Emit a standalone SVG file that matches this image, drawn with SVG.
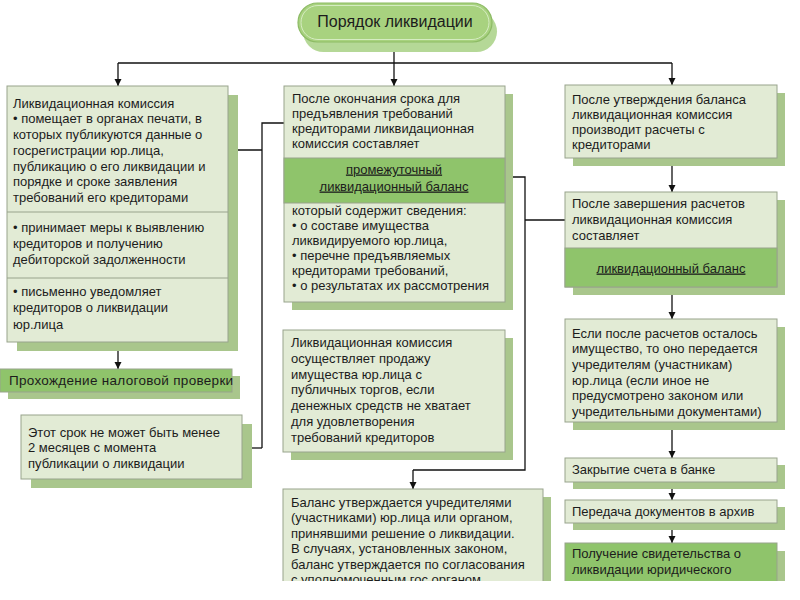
<svg xmlns="http://www.w3.org/2000/svg" width="800" height="600" viewBox="0 0 800 600">
<defs>
<marker id="ah" markerWidth="8" markerHeight="8" refX="7" refY="4" orient="auto" markerUnits="userSpaceOnUse">
<path d="M0,0.5 L7,4 L0,7.5 Z" fill="#111"/>
</marker>
<clipPath id="cut"><rect x="0" y="0" width="800" height="581"/></clipPath>
</defs>
<style>
text{font-family:"Liberation Sans",Arial,sans-serif;font-size:13px;fill:#1c1c1c}
.box{fill:#e2ebd5;stroke:#98a38c;stroke-width:1}
.grn{fill:#8fc46b;stroke:#98a38c;stroke-width:1}
.sh{fill:#a9c68c}
.div{stroke:#98a38c;stroke-width:1}
.c{fill:none;stroke:#111;stroke-width:1.3}
.ca{fill:none;stroke:#111;stroke-width:1.3;marker-end:url(#ah)}
.u{text-decoration:underline}
.mid{text-anchor:middle}
</style>
<rect width="800" height="600" fill="#ffffff"/>

<g id="connectors">
<line class="c" x1="394" y1="42" x2="394" y2="63"/>
<line class="c" x1="118" y1="63" x2="672" y2="63"/>
<line class="ca" x1="118" y1="63" x2="118" y2="86"/>
<line class="ca" x1="394" y1="63" x2="394" y2="86"/>
<line class="ca" x1="672" y1="63" x2="672" y2="85"/>
<line class="ca" x1="118" y1="342" x2="118" y2="369"/>
<polyline class="c" points="228,150 262,150"/>
<polyline class="c" points="284,123 262,123 262,448"/>
<line class="ca" x1="262" y1="448" x2="243" y2="448"/>
<polyline class="c" points="505,177 525,177 525,470 413,470"/>
<line class="ca" x1="413" y1="470" x2="413" y2="489"/>
<line class="c" x1="525" y1="220" x2="565" y2="220"/>
<line class="ca" x1="672" y1="158" x2="672" y2="192"/>
<line class="ca" x1="672" y1="287" x2="672" y2="319"/>
<line class="ca" x1="672" y1="422" x2="672" y2="458"/>
<line class="ca" x1="672" y1="482" x2="672" y2="500"/>
<line class="ca" x1="672" y1="523" x2="672" y2="543"/>
</g>

<g id="title">
<rect x="303" y="11" width="194" height="41" rx="20.5" fill="#b5d897"/>
<rect x="298" y="3" width="194" height="39" rx="19.5" fill="#a8d27f" stroke="#8dbb65" stroke-width="1.2"/>
<rect x="301" y="5.5" width="188" height="34" rx="17" fill="none" stroke="#d6ecc2" stroke-width="1"/>
<text x="395" y="27" class="mid" style="font-size:16px">Порядок ликвидации</text>
</g>

<g id="left-commission">
<rect class="sh" x="17" y="95" width="221" height="256"/>
<rect class="box" x="7" y="86" width="221" height="256"/>
<line class="div" x1="7" y1="212" x2="228" y2="212"/>
<line class="div" x1="7" y1="278" x2="228" y2="278"/>
<text x="13" y="107.5">Ликвидационная комиссия</text>
<text x="13" y="123">• помещает в органах печати, в</text>
<text x="13" y="139">которых публикуются данные о</text>
<text x="13" y="155">госрегистрации юр.лица,</text>
<text x="13" y="170.5">публикацию о его ликвидации и</text>
<text x="13" y="186">порядке и сроке заявления</text>
<text x="13" y="201.5">требований его кредиторами</text>
<text x="13" y="232">• принимает меры к выявлению</text>
<text x="13" y="248">кредиторов и получению</text>
<text x="13" y="264">дебиторской задолженности</text>
<text x="13" y="296">• письменно уведомляет</text>
<text x="13" y="312">кредиторов о ликвидации</text>
<text x="13" y="328.5">юр.лица</text>
</g>

<g id="tax-check">
<rect class="sh" x="8" y="376" width="232" height="23"/>
<rect class="grn" x="0" y="369" width="232" height="23"/>
<text x="9" y="385" style="font-size:13.5px;letter-spacing:0.3px">Прохождение налоговой проверки</text>
</g>

<g id="term">
<rect class="sh" x="31" y="424" width="221" height="64"/>
<rect class="box" x="21" y="415" width="221" height="64"/>
<text x="28" y="436.5">Этот срок не может быть менее</text>
<text x="28" y="452">2 месяцев с момента</text>
<text x="28" y="467.5">публикации о ликвидации</text>
</g>

<g id="interim-balance">
<rect class="sh" x="292" y="94" width="221" height="216"/>
<rect class="box" x="284" y="86" width="221" height="216"/>
<rect class="grn" x="284" y="158" width="221" height="45"/>
<text x="292" y="102.5">После окончания срока для</text>
<text x="292" y="117.5">предъявления требований</text>
<text x="292" y="132.5">кредиторами ликвидационная</text>
<text x="292" y="147.5">комиссия составляет</text>
<text x="394" y="173.5" class="mid u">промежуточный</text>
<text x="394" y="190.5" class="mid u">ликвидационный баланс</text>
<text x="292" y="214.5">который содержит сведения:</text>
<text x="292" y="229.5">• о составе имущества</text>
<text x="292" y="244.5">ликвидируемого юр.лица,</text>
<text x="292" y="259.5">• перечне предъявляемых</text>
<text x="292" y="274.5">кредиторами требований,</text>
<text x="292" y="289.5">• о результатах их рассмотрения</text>
</g>

<g id="sale">
<rect class="sh" x="291" y="338" width="222" height="122"/>
<rect class="box" x="283" y="330" width="222" height="122"/>
<text x="291" y="347">Ликвидационная комиссия</text>
<text x="291" y="362.8">осуществляет продажу</text>
<text x="291" y="378.6">имущества юр.лица с</text>
<text x="291" y="394.4">публичных торгов, если</text>
<text x="291" y="410.2">денежных средств не хватает</text>
<text x="291" y="426">для удовлетворения</text>
<text x="291" y="441.8">требований кредиторов</text>
</g>

<g id="approval" clip-path="url(#cut)">
<rect class="sh" x="291" y="497" width="260" height="100"/>
<rect class="box" x="283" y="489" width="260" height="100"/>
<text x="291" y="506.5">Баланс утверждается учредителями</text>
<text x="291" y="522">(участниками) юр.лица или органом,</text>
<text x="291" y="537.5">принявшими решение о ликвидации.</text>
<text x="291" y="553">В случаях, установленных законом,</text>
<text x="291" y="568.5">баланс утверждается по согласования</text>
<text x="291" y="584">с уполномоченным гос.органом</text>
</g>

<g id="settlements">
<rect class="sh" x="573" y="93" width="212" height="73"/>
<rect class="box" x="565" y="85" width="212" height="73"/>
<text x="572" y="103.5">После утверждения баланса</text>
<text x="572" y="118.5">ликвидационная комиссия</text>
<text x="572" y="133.5">производит расчеты с</text>
<text x="572" y="148.5">кредиторами</text>
</g>

<g id="final-balance">
<rect class="sh" x="573" y="200" width="212" height="95"/>
<rect class="box" x="565" y="192" width="212" height="95"/>
<rect class="grn" x="565" y="248" width="212" height="39"/>
<text x="572" y="208">После завершения расчетов</text>
<text x="572" y="224">ликвидационная комиссия</text>
<text x="572" y="240">составляет</text>
<text x="671" y="272.5" class="mid u">ликвидационный баланс</text>
</g>

<g id="remaining-property">
<rect class="sh" x="573" y="327" width="212" height="103"/>
<rect class="box" x="565" y="319" width="212" height="103"/>
<text x="572" y="337.5">Если после расчетов осталось</text>
<text x="572" y="353.2">имущество, то оно передается</text>
<text x="572" y="368.9">учредителям (участникам)</text>
<text x="572" y="384.6">юр.лица (если иное не</text>
<text x="572" y="400.3">предусмотрено законом или</text>
<text x="572" y="416">учредительными документами)</text>
</g>

<g id="close-account">
<rect class="sh" x="573" y="465" width="212" height="24"/>
<rect class="box" x="565" y="458" width="212" height="24"/>
<text x="572" y="474">Закрытие счета в банке</text>
</g>

<g id="archive">
<rect class="sh" x="573" y="507" width="212" height="23"/>
<rect class="box" x="565" y="500" width="212" height="23"/>
<text x="572" y="516">Передача документов в архив</text>
</g>

<g id="certificate" clip-path="url(#cut)">
<rect class="sh" x="573" y="551" width="212" height="40"/>
<rect class="grn" x="565" y="543" width="212" height="40"/>
<text x="572" y="558">Получение свидетельства о</text>
<text x="572" y="574">ликвидации юридического</text>
</g>
</svg>
